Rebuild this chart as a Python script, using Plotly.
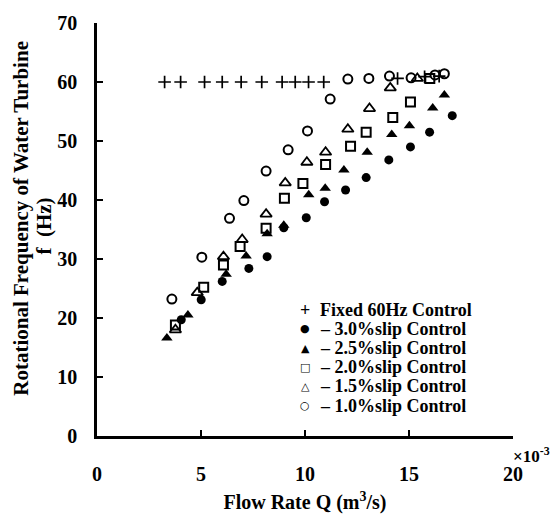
import plotly.graph_objects as go

# Flow rate in units of 1e-3 m^3/s, frequency in Hz
fixed_x = [3.25, 4.02, 5.17, 6.02, 6.93, 7.92, 8.90, 9.53, 10.17, 10.9, 14.45, 15.75, 16.45]
fixed_y = [60.0, 60.0, 60.0, 60.0, 60.0, 60.0, 60.0, 60.0, 60.0, 60.0, 60.6, 60.9, 61.0]

s30_x = [4.05, 5.01, 6.02, 7.30, 8.18, 8.98, 10.06, 10.94, 11.95, 12.94, 14.03, 15.07, 15.99, 17.08]
s30_y = [19.7, 23.1, 26.2, 28.4, 30.4, 35.3, 37.0, 39.7, 41.7, 43.8, 46.8, 49.0, 51.5, 54.3]

s25_x = [3.36, 4.37, 6.21, 7.17, 8.18, 8.98, 10.18, 10.97, 11.87, 12.99, 14.17, 15.02, 16.14, 16.7]
s25_y = [16.6, 20.5, 27.4, 30.5, 34.3, 35.7, 40.9, 42.0, 45.1, 48.1, 51.1, 52.6, 55.6, 57.8]

s20_x = [3.77, 5.13, 6.08, 6.88, 8.13, 9.01, 9.9, 10.99, 12.19, 12.94, 14.22, 15.07, 16.0]
s20_y = [18.8, 25.2, 29.0, 32.1, 35.2, 40.3, 42.8, 46.0, 49.1, 51.5, 54.0, 56.6, 60.6]

s15_x = [3.77, 4.82, 6.08, 6.98, 8.13, 9.05, 10.09, 10.99, 12.06, 13.1, 14.1, 15.4]
s15_y = [18.0, 24.3, 30.4, 33.3, 37.6, 42.9, 46.4, 48.1, 52.0, 55.5, 59.0, 60.6]

s10_x = [3.6, 5.04, 6.37, 7.06, 8.13, 9.19, 10.12, 11.21, 12.06, 13.07, 14.06, 15.1, 16.25, 16.7]
s10_y = [23.2, 30.3, 36.9, 39.9, 44.9, 48.5, 51.7, 57.1, 60.5, 60.6, 61.0, 60.7, 61.2, 61.4]

series_names = ["Fixed 60Hz Control", "\u2013 3.0%slip Control", "\u2013 2.5%slip Control",
                "\u2013 2.0%slip Control", "\u2013 1.5%slip Control", "\u2013 1.0%slip Control"]
legend_glyphs = ["+", "\u25CF", "\u25B2", "\u25A1", "\u25B3", "\u25CB"]

x_ticks = [0, 5, 10, 15, 20]
y_ticks = [0, 10, 20, 30, 40, 50, 60, 70]

y_title_1 = "Rotational Frequency of Water Turbine"
y_title_2 = "f  (Hz)"
x_title = "Flow Rate Q (m<sup>3</sup>/s)"

FONT = "Liberation Serif, Times New Roman, serif"
BLACK = "#000000"

series = [
    (fixed_x, fixed_y, "cross-thin-open", 9, 1.7),
    (s30_x, s30_y, "circle", 9, 0),
    (s25_x, s25_y, "triangle-up", 10, 0),
    (s20_x, s20_y, "square-open", 9, 2.0),
    (s15_x, s15_y, "triangle-up-open", 10, 1.8),
    (s10_x, s10_y, "circle-open", 9, 2.0),
]

# plot area in pixels
L, R, T, B = 97, 40, 20, 81
PW, PH = 553 - L - R, 523 - T - B

def px_x(p):
    return (p - L) / PW

def px_y(p):
    return (523 - B - p) / PH

fig = go.Figure()
for (xs, ys, sym, size, lw), name in zip(series, series_names):
    fig.add_trace(go.Scatter(
        x=xs, y=ys, mode="markers", name=name, showlegend=False,
        marker=dict(symbol=sym, size=size, color=BLACK,
                    line=dict(color=BLACK, width=lw)),
    ))

# legend drawn as text lines (tight line spacing as in reference)
for i, (g, name) in enumerate(zip(legend_glyphs, series_names)):
    yp = px_y(313 + i * 19.6)
    fig.add_annotation(x=px_x(305), y=yp, xref="paper", yref="paper", text="<b>" + g + "</b>",
                       showarrow=False, xanchor="center", yanchor="middle",
                       font=dict(family="DejaVu Sans" if i else FONT, size=(11 if i else 18), color=BLACK))
    fig.add_annotation(x=px_x(318), y=yp, xref="paper", yref="paper",
                       text="<b>" + name + "</b>", showarrow=False,
                       xanchor="left", yanchor="middle",
                       font=dict(family=FONT, size=18, color=BLACK))

# y-axis title (two rotated lines)
fig.add_annotation(x=px_x(21), y=px_y(220), xref="paper", yref="paper",
                   text="<b>" + y_title_1 + "</b>", textangle=-90, showarrow=False,
                   xanchor="center", yanchor="middle",
                   font=dict(family=FONT, size=21, color=BLACK))
fig.add_annotation(x=px_x(44), y=px_y(228), xref="paper", yref="paper",
                   text="<b>" + y_title_2 + "</b>", textangle=-90, showarrow=False,
                   xanchor="center", yanchor="middle",
                   font=dict(family=FONT, size=21, color=BLACK))

fig.add_annotation(x=1.0, y=0.0, xref="paper", yref="paper",
                   text="<b>\u00d710<sup>-3</sup></b>", showarrow=False,
                   xanchor="left", yanchor="top", xshift=-2, yshift=-6,
                   font=dict(family=FONT, size=17, color=BLACK))

fig.update_layout(
    width=553, height=523,
    margin=dict(l=L, r=R, t=T, b=B),
    paper_bgcolor="white", plot_bgcolor="white",
    font=dict(family=FONT, size=20, color=BLACK),
    showlegend=False,
)
fig.update_xaxes(
    range=[0, 20], tickvals=x_ticks, ticktext=["<b>%d</b>" % v for v in x_ticks],
    showgrid=False, zeroline=False, showline=True, linecolor=BLACK, linewidth=2.5,
    ticks="inside", ticklen=6, tickwidth=2, tickcolor=BLACK,
    ticklabelstandoff=18,
    title=dict(text="<b>" + x_title + "</b>", font=dict(size=20), standoff=12),
)
fig.update_yaxes(
    range=[0, 70], tickvals=y_ticks, ticktext=["<b>%d</b>" % v for v in y_ticks],
    showgrid=False, zeroline=False, showline=True, linecolor=BLACK, linewidth=2.5,
    ticks="inside", ticklen=6, tickwidth=2, tickcolor=BLACK,
    ticklabelstandoff=13,
)

fig.write_html("out.html")
